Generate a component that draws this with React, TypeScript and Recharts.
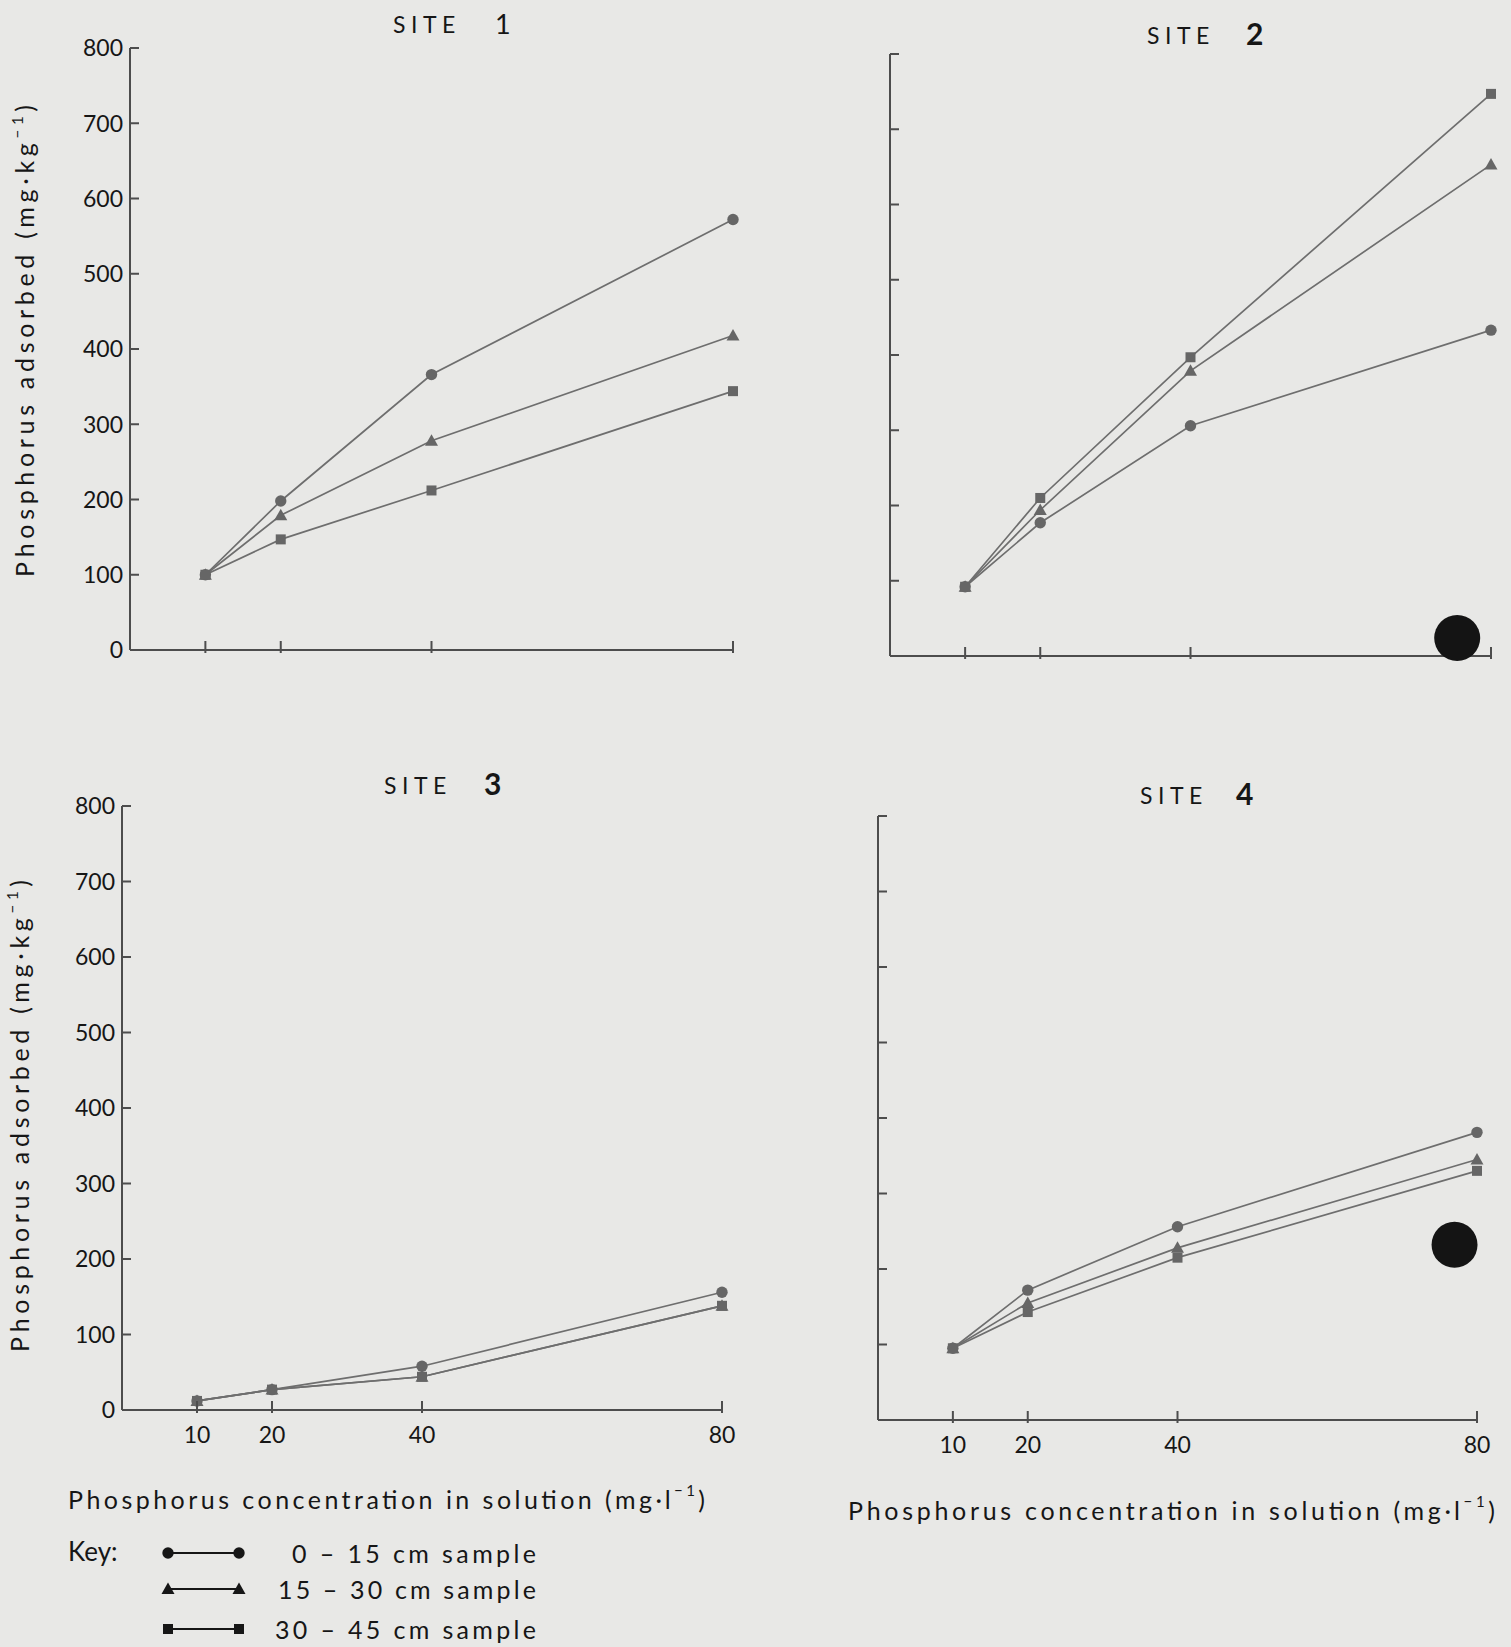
import React from "react";
import { LineChart, Line, XAxis, YAxis, ReferenceDot } from "recharts";

// phosphorus concentration in solution (mg/l)
const CONC = [10, 20, 40, 80];
const X_TICKS = [10, 20, 40, 80];
const Y_TICKS = [0, 100, 200, 300, 400, 500, 600, 700, 800];

const SAMPLES = ["0 – 15 cm sample", "15 – 30 cm sample", "30 – 45 cm sample"];
const SHAPES = ["circle", "triangle", "square"];

// P adsorbed (mg/kg)
const SITE1_0_15 = [100, 198, 366, 572];
const SITE1_15_30 = [100, 179, 278, 418];
const SITE1_30_45 = [100, 147, 212, 344];

const SITE2_0_15 = [92, 177, 306, 433];
const SITE2_15_30 = [92, 194, 379, 653];
const SITE2_30_45 = [92, 210, 397, 747];

const SITE3_0_15 = [12, 27, 58, 156];
const SITE3_15_30 = [12, 27, 44, 138];
const SITE3_30_45 = [12, 27, 44, 138];

const SITE4_0_15 = [95, 172, 256, 381];
const SITE4_15_30 = [95, 155, 228, 345];
const SITE4_30_45 = [95, 143, 215, 330];

// ink blots on the scan (x, y in data units)
const BLOT_SITE2 = [75.5, 24];
const BLOT_SITE4 = [77, 232];

const BG = "#e8e8e6";
const AXIS = "#4d4d4d";
const LINE = "#6e6e6e";
const MARK = "#666";
const INK = "#161616";
const FONT = "Lato, 'Noto Sans', sans-serif";

const rowsOf = (a: number[], b: number[], c: number[]) =>
  CONC.map((conc, i) => ({ conc, s0: a[i], s1: b[i], s2: c[i] }));

function Marker({ shape, cx, cy, fill }: { shape: string; cx: number; cy: number; fill: string }) {
  if (shape === "triangle")
    return <path d={`M${cx},${cy - 6.5} L${cx + 6.5},${cy + 5} L${cx - 6.5},${cy + 5} Z`} fill={fill} />;
  if (shape === "square") return <rect x={cx - 5} y={cy - 5} width={10} height={10} fill={fill} />;
  return <circle cx={cx} cy={cy} r={5.7} fill={fill} />;
}

type Panel = {
  rows: ReturnType<typeof rowsOf>;
  box: number[]; // left, top, width, height
  plot: number[]; // left, top, right, bottom (page coords)
  yLabels: boolean;
  xLabels: boolean;
  blot?: number[];
};

const PANELS: Panel[] = [
  { rows: rowsOf(SITE1_0_15, SITE1_15_30, SITE1_30_45), box: [0, 0, 760, 700], plot: [130, 48, 733, 650], yLabels: true, xLabels: false },
  { rows: rowsOf(SITE2_0_15, SITE2_15_30, SITE2_30_45), box: [760, 0, 751, 700], plot: [890, 54, 1491, 656], yLabels: false, xLabels: false, blot: BLOT_SITE2 },
  { rows: rowsOf(SITE3_0_15, SITE3_15_30, SITE3_30_45), box: [0, 720, 760, 820], plot: [122, 806, 722, 1410], yLabels: true, xLabels: true },
  { rows: rowsOf(SITE4_0_15, SITE4_15_30, SITE4_30_45), box: [760, 720, 751, 820], plot: [878, 816, 1477, 1420], yLabels: false, xLabels: true, blot: BLOT_SITE4 },
];

function SitePanel({ p }: { p: Panel }) {
  const [x0, y0, w, h] = p.box;
  const [pl, pt, pr, pb] = p.plot;
  const axisX = pl - x0;
  const axisY = pb - y0;

  const yTick = (props: any) => (
    <g>
      <line x1={axisX} x2={axisX + 9} y1={props.y} y2={props.y} stroke={AXIS} strokeWidth={2} />
      {p.yLabels && (
        <text x={axisX - 7} y={props.y} dy="0.36em" textAnchor="end" fontSize={23} fill={INK} fontFamily={FONT}>
          {props.payload.value}
        </text>
      )}
    </g>
  );

  const xTick = (props: any) => (
    <g>
      <line x1={props.x} x2={props.x} y1={axisY - 9} y2={axisY + 3} stroke={AXIS} strokeWidth={2} />
      {p.xLabels && (
        <text x={props.x} y={axisY + 25} dy="0.36em" textAnchor="middle" fontSize={23} fill={INK} fontFamily={FONT}>
          {props.payload.value}
        </text>
      )}
    </g>
  );

  return (
    <div style={{ position: "absolute", left: x0, top: y0 }}>
      <LineChart
        width={w}
        height={h}
        data={p.rows}
        margin={{ top: pt - y0, right: x0 + w - pr, bottom: 0, left: 0 }}
      >
        <XAxis
          dataKey="conc"
          type="number"
          domain={[0, 80]}
          ticks={X_TICKS}
          interval={0}
          height={y0 + h - pb}
          axisLine={{ stroke: AXIS, strokeWidth: 2 }}
          tickLine={false}
          tick={xTick}
        />
        <YAxis
          type="number"
          domain={[0, 800]}
          ticks={Y_TICKS}
          interval={0}
          width={axisX}
          axisLine={{ stroke: AXIS, strokeWidth: 2 }}
          tickLine={false}
          tick={yTick}
        />
        {["s0", "s1", "s2"].map((k, i) => (
          <Line
            key={k}
            dataKey={k}
            stroke={LINE}
            strokeWidth={1.7}
            isAnimationActive={false}
            dot={(d: any) => <Marker key={`${k}-${d.index}`} shape={SHAPES[i]} cx={d.cx} cy={d.cy} fill={MARK} />}
            activeDot={false}
          />
        ))}
        {p.blot && (
          <ReferenceDot x={p.blot[0]} y={p.blot[1]} r={23} fill="#141414" stroke="none" ifOverflow="visible" />
        )}
      </LineChart>
    </div>
  );
}

const SITE_TITLES = [
  { label: "1", x: 393, nx: 495, y: 33 },
  { label: "2", x: 1147, nx: 1246, y: 44 },
  { label: "3", x: 384, nx: 484, y: 794 },
  { label: "4", x: 1140, nx: 1236, y: 804 },
];

function Overlay() {
  const yTitle = (cx: number, cy: number) => (
    <text
      transform={`translate(${cx},${cy}) rotate(-90)`}
      textAnchor="middle"
      dominantBaseline="central"
      fontSize={25}
      fill={INK}
      fontFamily={FONT}
      textLength={472}
      lengthAdjust="spacing"
    >
      Phosphorus adsorbed (mg·kg<tspan dy={-7} fontSize={15}>−1</tspan>
      <tspan dy={7}>)</tspan>
    </text>
  );
  const xTitle = (x: number, y: number, len: number) => (
    <text x={x} y={y} dominantBaseline="central" fontSize={25} fill={INK} fontFamily={FONT} textLength={len} lengthAdjust="spacing">
      Phosphorus concentration in solution (mg·l<tspan dy={-9} fontSize={15}>−1</tspan>
      <tspan dy={9}>)</tspan>
    </text>
  );
  const legendRows = [1553, 1589, 1629];
  const legendStarts = [292, 278, 275];
  return (
    <svg width={1511} height={1647} style={{ position: "absolute", left: 0, top: 0, pointerEvents: "none" }}>
      {SITE_TITLES.map((t) => (
        <g key={t.label} fontFamily={FONT} fill={INK}>
          <text x={t.x} y={t.y} fontSize={23} letterSpacing={5.5}>SITE</text>
          <text x={t.nx} y={t.y + 1} fontSize={t.label === "1" ? 27 : 30} fontWeight={t.label === "1" ? 400 : 700}>
            {t.label}
          </text>
        </g>
      ))}
      {yTitle(24, 341)}
      {yTitle(19, 1116)}
      {xTitle(68, 1499, 637)}
      {xTitle(848, 1510, 647)}
      <text x={68} y={1551} dominantBaseline="central" fontSize={26} fill={INK} fontFamily={FONT}>Key:</text>
      {SAMPLES.map((s, i) => (
        <g key={s}>
          <line x1={168} x2={239} y1={legendRows[i]} y2={legendRows[i]} stroke={INK} strokeWidth={2} />
          <Marker shape={SHAPES[i]} cx={168} cy={legendRows[i]} fill={INK} />
          <Marker shape={SHAPES[i]} cx={239} cy={legendRows[i]} fill={INK} />
          <text
            x={legendStarts[i]}
            y={legendRows[i]}
            dominantBaseline="central"
            fontSize={25}
            fill={INK}
            fontFamily={FONT}
            textLength={536 - legendStarts[i]}
            lengthAdjust="spacing"
          >
            {s}
          </text>
        </g>
      ))}
    </svg>
  );
}

export default function App() {
  return (
    <div style={{ position: "absolute", left: 0, top: 0, width: 1511, height: 1647, background: BG, overflow: "hidden" }}>
      {PANELS.map((p, i) => (
        <SitePanel key={i} p={p} />
      ))}
      <Overlay />
    </div>
  );
}
